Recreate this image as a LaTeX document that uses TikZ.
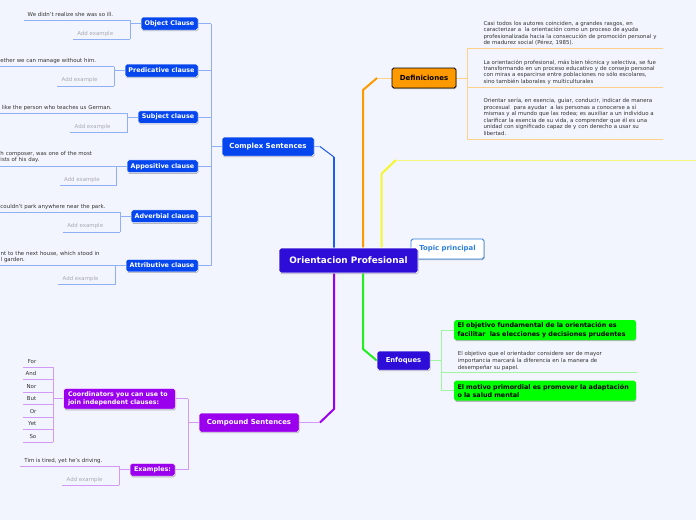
\documentclass[tikz,border=0pt]{standalone}
\usepackage{fontspec}
\setmainfont{DejaVu Sans}
\usetikzlibrary{shadows}
\pgfdeclarelayer{bgfill}
\pgfdeclarelayer{lines}
\pgfsetlayers{bgfill,lines,main}
\definecolor{bgc}{HTML}{F2F5FD}
\definecolor{mainc}{HTML}{2E0DD9}
\definecolor{bluec}{HTML}{0546EE}
\definecolor{bluel}{HTML}{8FB0F5}
\definecolor{bluet}{HTML}{1F5BEF}
\definecolor{orangec}{HTML}{FF9900}
\definecolor{orangel}{HTML}{FFD08A}
\definecolor{yellowc}{HTML}{F6F62C}
\definecolor{yellowl}{HTML}{F6F67A}
\definecolor{greenc}{HTML}{00FF00}
\definecolor{greent}{HTML}{22EE22}
\definecolor{greenl}{HTML}{A0F5A0}
\definecolor{purplec}{HTML}{9A00EE}
\definecolor{purplel}{HTML}{D39AF5}
\definecolor{txtc}{HTML}{333333}
\definecolor{addc}{HTML}{A8A8B0}
\definecolor{topicc}{HTML}{2F80DC}
\tikzset{
  box/.style={rounded corners=1.8pt, inner sep=0pt, align=center, text=white, draw=white, line width=0.5pt,
    font=\bfseries\fontsize{6.4}{8}\selectfont,
    drop shadow={shadow xshift=0.5pt, shadow yshift=-1.2pt, opacity=0.25, fill=black}},
  bbox/.style={box, fill=bluec},
  pbox/.style={box, fill=purplec},
  gbox/.style={box, fill=greenc, text=black, draw=none, align=left, text width=175, inner xsep=3.3,
    font=\bfseries\fontsize{6.4}{8.3}\selectfont},
  small/.style={inner sep=0pt, text=txtc, font=\fontsize{5.45}{6.5}\selectfont},
  addtx/.style={small, text=addc},
  block/.style={small, align=left, anchor=base west},
  bline/.style={draw=bluel, line width=0.8pt},
  pline/.style={draw=purplel, line width=0.8pt},
  oline/.style={draw=orangel, line width=0.8pt},
  gline/.style={draw=greenl, line width=0.8pt},
  trunk/.style={line width=2pt},
}
\begin{document}
\begin{tikzpicture}[x=1pt,y=-1pt]
\useasboundingbox (0,0) rectangle (696,520);
\begin{pgfonlayer}{bgfill}
\fill[bgc] (0,0) rectangle (696,520);
\end{pgfonlayer}
\clip (0,0) rectangle (696,520);

% ---------- main nodes ----------
\node[box, fill=white, draw=topicc, text=topicc, line width=0.8pt, minimum width=73, minimum height=20,
  font=\bfseries\fontsize{6.9}{8}\selectfont] (topic) at (447.5,249) {Topic principal};
\node[box, fill=mainc, line width=0.8pt, minimum width=139, minimum height=25,
  font=\bfseries\fontsize{8.9}{10}\selectfont] (main) at (348.5,260.5) {Orientacion Profesional};
\node[box, fill=orangec, draw=black, text=black, line width=0.8pt, minimum width=64, minimum height=20,
  font=\bfseries\fontsize{7}{8}\selectfont] (def) at (424,78) {Definiciones};
\node[box, fill=mainc, minimum width=53, minimum height=19,
  font=\bfseries\fontsize{6.8}{8}\selectfont] (enf) at (403.5,360.5) {Enfoques};
\node[bbox, minimum width=92, minimum height=19,
  font=\bfseries\fontsize{7}{8}\selectfont] (cs) at (268,146.5) {Complex Sentences};
\node[pbox, minimum width=100, minimum height=19,
  font=\bfseries\fontsize{6.9}{8}\selectfont] (comp) at (249,422.5) {Compound Sentences};

% ---------- Definiciones ----------
\node[block, text width=195, font=\fontsize{5.45}{6.45}\selectfont] (d1) at (483.3,25.3)
  {Casi todos los autores coinciden, a grandes rasgos, en\\caracterizar a\ \ la orientación como un proceso de ayuda\\profesionalizada hacia la consecución de promoción personal y\\de madurez social (Pérez, 1985).};
\node[block, text width=195, font=\fontsize{5.45}{6.45}\selectfont] (d2) at (483.3,64)
  {La orientación profesional, más bien técnica y selectiva, se fue\\transformando en un proceso educativo y de consejo personal\\con miras a esparcirse entre poblaciones no sólo escolares,\\sino también laborales y multiculturales};
\node[block, text width=195, font=\fontsize{5.45}{6.5}\selectfont] (d3) at (483.3,102.7)
  {Orientar sería, en esencia, guiar, conducir, indicar de manera\\procesual\ \ para ayudar\ \ a las personas a conocerse a sí\\mismas y al mundo que las rodea; es auxiliar a un individuo a\\clarificar la esencia de su vida, a comprender que él es una\\unidad con significado capaz de y con derecho a usar su\\libertad.};
\coordinate (df) at (467.3,78);
\coordinate (du1) at (662.7,48.3);
\coordinate (du2) at (662.7,87.3);
\coordinate (du3) at (662.7,139);

% ---------- Enfoques ----------
\node[gbox, minimum height=20] (g1) at (545,330)
  {El objetivo fundamental de la orientación es\\facilitar\ \ las elecciones y decisiones prudentes};
\node[block, text width=185, font=\fontsize{5.45}{6.7}\selectfont] (enm) at (457.7,355.7)
  {El objetivo que el orientador considere ser de mayor\\importancia marcará la diferencia en la manera de\\desempeñar su papel.};
\node[gbox, minimum height=20] (g3) at (545,390.7)
  {El motivo primordial es promover la adaptación\\o la salud mental};
\coordinate (ef) at (441,360.5);
\coordinate (emu) at (637.3,372.7);

% ---------- Complex sentences ----------
\node[bbox, minimum width=57, minimum height=13] (obj) at (169.5,23.5) {Object Clause};
\node[bbox, minimum width=73, minimum height=13] (pred) at (161.5,70.5) {Predicative clause};
\node[bbox, minimum width=60, minimum height=12.5] (subj) at (168,117) {Subject clause};
\node[bbox, minimum width=71, minimum height=12.7] (appo) at (162.5,166.3) {Appositive clause};
\node[bbox, minimum width=67, minimum height=12.7] (adv) at (164.5,216.3) {Adverbial clause};
\node[bbox, minimum width=72, minimum height=12.5] (attr) at (162,265.5) {Attributive clause};
\coordinate (ct) at (211,146.5);

\coordinate (objT) at (130,20);     \coordinate (objB) at (130,39.3);
\coordinate (predT) at (114.3,66.7); \coordinate (predB) at (114.3,86);
\coordinate (subjT) at (127.3,113); \coordinate (subjB) at (127.3,132.7);
\coordinate (appoT) at (116.7,166); \coordinate (appoB) at (116.7,185.3);
\coordinate (advT) at (120,212.3);  \coordinate (advB) at (120,232);
\coordinate (attrT) at (115.3,265.7); \coordinate (attrB) at (115.3,284.7);

\node[small, anchor=base east] (objS) at (113.3,16) {We didn't realize she was so ill.};
\node[addtx, anchor=base east] (objA) at (113.3,35) {Add example};
\node[small, anchor=base west] (predS) at (0.3,62.7) {ether we can manage without him.};
\node[addtx, anchor=base east] (predA) at (97.6,81.7) {Add example};
\node[small, anchor=base west] (subjS) at (1.7,109) {like the person who teaches us German.};
\node[addtx, anchor=base east] (subjA) at (110.6,128.4) {Add example};
\node[block, text width=120, font=\fontsize{5.45}{6.6}\selectfont] (appoS) at (0.3,155.3) {h composer, was one of the most\\ists of his day.};
\node[addtx, anchor=base east] (appoA) at (100,181) {Add example};
\node[small, anchor=base west] (advS) at (0.3,208.3) {couldn't park anywhere near the park.};
\node[addtx, anchor=base east] (advA) at (103.3,227.7) {Add example};
\node[block, text width=120, font=\fontsize{5.45}{6.3}\selectfont] (attrS) at (0.5,255.2) {nt to the next house, which stood in\\l garden.};
\node[addtx, anchor=base east] (attrA) at (98.6,280.4) {Add example};

% ---------- Compound sentences ----------
\node[pbox, minimum height=20.7, text width=103, inner xsep=4.5, align=left,
  font=\bfseries\fontsize{6.3}{8}\selectfont] (coord) at (119.5,398.7) {Coordinators you can use to\\join independent clauses:};
\node[pbox, minimum width=45, minimum height=12.7] (ex) at (152.5,469.7) {Examples:};
\coordinate (pt) at (188.3,422.5);
\coordinate (exT) at (119.3,466); \coordinate (exB) at (119.3,485.3);
\node[small, anchor=base east] (exS) at (102.6,462) {Tim is tired, yet he's driving.};
\node[addtx, anchor=base east] (exA) at (102.6,481) {Add example};

\foreach \w [count=\i] in {For,And,Nor,But,Or,Yet,So} {
  \node[small, anchor=base east] (w\i) at (36.5,{367.3+12.5*(\i-1)-4}) {\w};
  \coordinate (u\i) at (53.3,{367.3+12.5*(\i-1)});
}

% ---------- connectors ----------
\begin{pgfonlayer}{lines}
\coordinate (bl1) at (334,157); \coordinate (bl2) at (320,146.5);
\draw[bluet, trunk] (main.north -| bl1) -- (bl1);
\draw[bluet, line width=1pt] (bl1) -- (bl2);
\draw[bluel, line width=0.8pt] (bl2) -- (cs.east);

\coordinate (or1) at (363,90); \coordinate (or2) at (377,78);
\draw[orangec, trunk, line join=round] (main.north -| or1) -- (or1) -- (or2);
\draw[oline] (or2) -- (def.west);

\coordinate (ye1) at (381.7,173.5); \coordinate (ye2) at (396,160); \coordinate (ye3) at (700,160);
\draw[yellowc, trunk, line join=round] (main.north -| ye1) -- (ye1) -- (ye2);
\draw[yellowl, line width=1pt] (ye2) -- (ye3);

\coordinate (gr1) at (363,349);
\draw[greent, trunk, line join=round] (main.south -| gr1) -- (gr1) -- (enf.west);

\coordinate (pu1) at (334,409); \coordinate (pu2) at (320,422.5);
\draw[purplec, trunk, line join=round] (main.south -| pu1) -- (pu1) -- (pu2);
\draw[pline] (pu2) -- (comp.east);

\draw[oline] (def.east) -- (df);
\draw[oline] (du1 -| df) -- (du3 -| df);
\draw[oline] (du1 -| df) -- (du1);
\draw[oline] (du2 -| df) -- (du2);
\draw[oline] (du3 -| df) -- (du3);

\draw[gline] (enf.east) -- (ef);
\draw[gline] (g1.west -| ef) -- (g3.west -| ef);
\draw[gline] (g1.west -| ef) -- (g1.west);
\draw[gline] (g3.west -| ef) -- (g3.west);
\draw[gline] (emu -| ef) -- (emu);

\draw[bline] (cs.west) -- (ct);
\draw[bline] (obj.east -| ct) -- (attr.east -| ct);
\foreach \n in {obj,pred,subj,appo,adv,attr} {
  \draw[bline] (\n.east) -- (\n.east -| ct);
  \draw[bline] (\n.west) -- (\n.west -| \n T);
  \draw[bline] (\n T) -- (\n B);
  \draw[bline] ([shift={(-4,4.3)}]\n A.base west) -- (\n B);
}
\draw[bline] ([shift={(-4,4)}]objS.base west) -- (objT);
\draw[bline] ([xshift=-120pt]predT) -- (predT);
\draw[bline] ([xshift=-130pt]subjT) -- (subjT);
\draw[bline] ([xshift=-120pt]appoT) -- (appoT);
\draw[bline] ([xshift=-125pt]advT) -- (advT);
\draw[bline] ([xshift=-120pt]attrT) -- (attrT);

\draw[pline] (comp.west) -- (pt);
\draw[pline] (coord.east -| pt) -- (ex.east -| pt);
\draw[pline] (coord.east) -- (coord.east -| pt);
\draw[pline] (ex.east) -- (ex.east -| pt);
\draw[pline] (coord.west) -- (coord.west -| u1);
\draw[pline] (u1) -- (u7);
\foreach \i in {1,...,7} { \draw[pline] ([xshift=-30.5pt]u\i) -- (u\i); }
\draw[pline] (ex.west) -- (ex.west -| exT);
\draw[pline] (exT) -- (exB);
\draw[pline] ([shift={(-4,4)}]exS.base west) -- (exT);
\draw[pline] ([shift={(-4,4.3)}]exA.base west) -- (exB);
\end{pgfonlayer}
\end{tikzpicture}
\end{document}
